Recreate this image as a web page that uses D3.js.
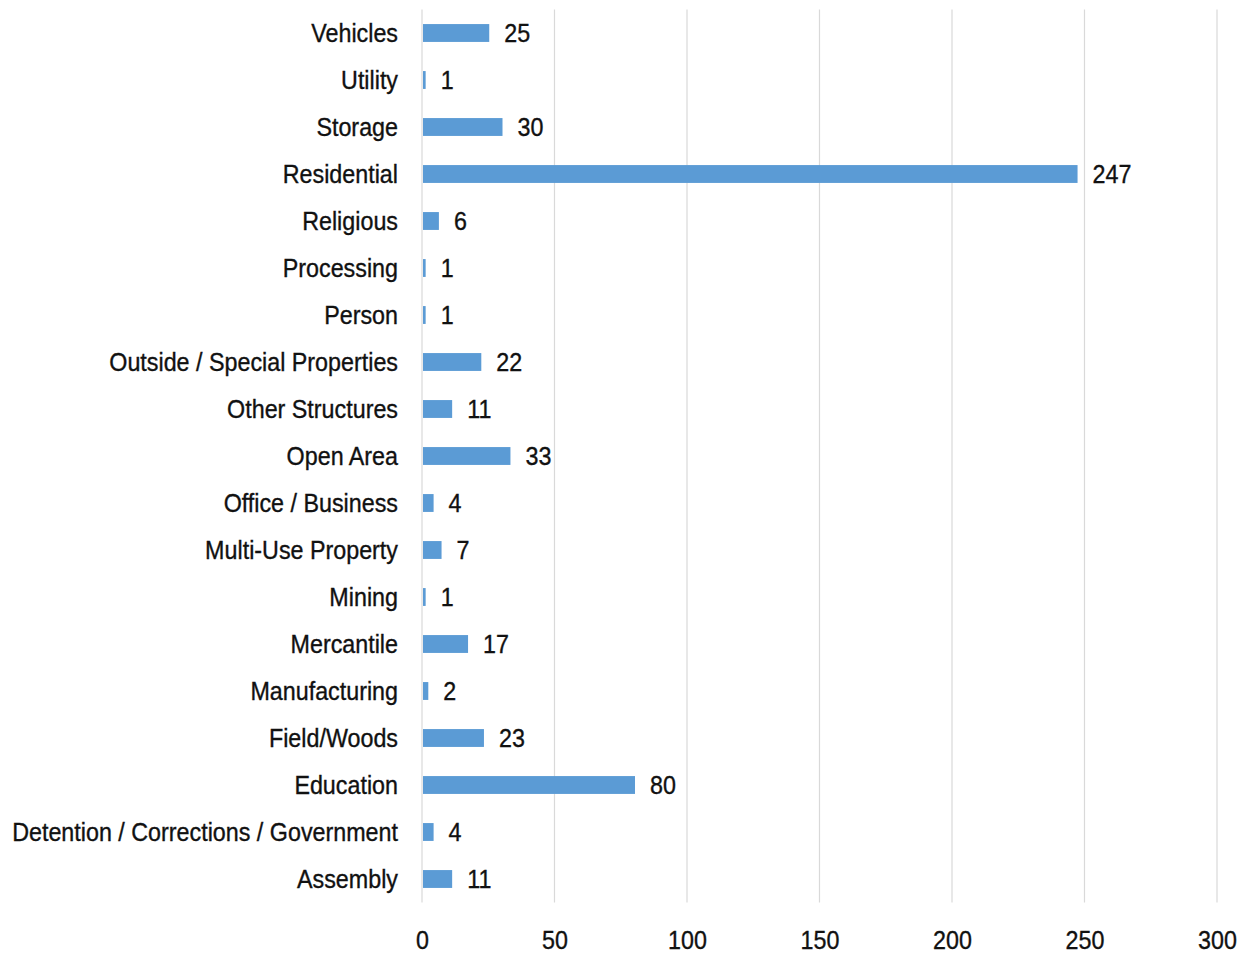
<!DOCTYPE html>
<html><head><meta charset="utf-8">
<script src="https://cdn.jsdelivr.net/npm/d3@7"></script>
<style>body{margin:0;background:#fff}svg{display:block}</style>
</head><body>
<script>
const categories = ["Vehicles","Utility","Storage","Residential","Religious","Processing","Person","Outside / Special Properties","Other Structures","Open Area","Office / Business","Multi-Use Property","Mining","Mercantile","Manufacturing","Field/Woods","Education","Detention / Corrections / Government","Assembly"];
const values = [25,1,30,247,6,1,1,22,11,33,4,7,1,17,2,23,80,4,11];
const tickValues = [0,50,100,150,200,250,300];

const W = 1246, H = 953;
const mLeft = 422, mRight = 1217, mTop = 9.5, mBottom = 902.5;
const FONT = "'Liberation Sans','Arial',sans-serif";
const FS = 25;

const svg = d3.select("body").append("svg").attr("width", W).attr("height", H);
const x = d3.scaleLinear().domain([0,300]).range([mLeft,mRight]);
const y = d3.scaleBand().domain(categories).range([mTop,mBottom]).paddingInner(0.62).paddingOuter(0.31);

// measure horizontal compression factor
const probe = svg.append("text").attr("font-family", FONT).attr("font-size", FS).text(categories[17]);
const sx = 386 / probe.node().getComputedTextLength();
probe.remove();

function styleText(sel){
  sel.attr("font-family", FONT).attr("font-size", FS).attr("fill", "#111")
     .attr("stroke", "#111").attr("stroke-width", 0.35);
}

svg.append("g").selectAll("line").data(tickValues).join("line")
  .attr("x1", d=>x(d)).attr("x2", d=>x(d)).attr("y1", mTop).attr("y2", mBottom)
  .attr("stroke", "#d9d9d9").attr("stroke-width", 1.2);

svg.append("g").selectAll("rect").data(categories).join("rect")
  .attr("x", x(0)+1).attr("y", d=>y(d))
  .attr("width", (d,i)=>x(values[i])-x(0)).attr("height", y.bandwidth())
  .attr("fill", "#5B9BD5");

svg.append("g").selectAll("g").data(categories).join("g")
  .attr("transform", (d,i)=>`translate(${x(values[i])+16},${y(d)+y.bandwidth()/2}) scale(${sx},1)`)
  .append("text").attr("dy", "0.36em").call(styleText)
  .text((d,i)=>values[i]);

svg.append("g").selectAll("g").data(categories).join("g")
  .attr("transform", d=>`translate(398,${y(d)+y.bandwidth()/2}) scale(${sx},1)`)
  .append("text").attr("text-anchor","end").attr("dy", "0.36em").call(styleText)
  .text(d=>d);

const xAxis = d3.axisBottom(x).tickValues(tickValues).tickSize(0).tickPadding(0);
const ax = svg.append("g").attr("transform", `translate(0,${mBottom+37})`).call(xAxis);
ax.select(".domain").remove();
ax.selectAll("text").call(styleText).attr("dy","0.36em").attr("y",0)
  .attr("transform", `scale(${sx},1)`);
</script>
</body></html>
